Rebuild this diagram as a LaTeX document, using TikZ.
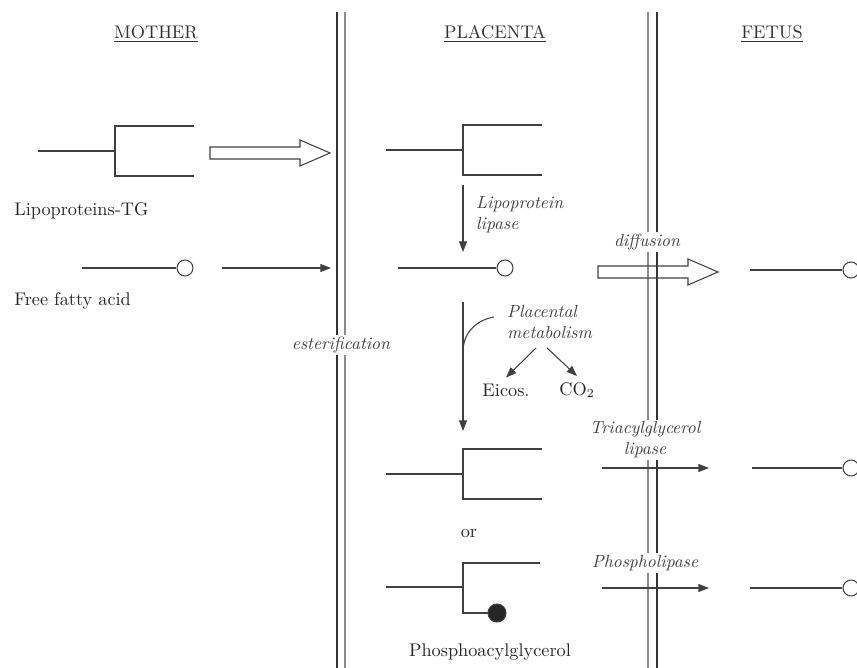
\documentclass[tikz,border=0pt]{standalone}
\usetikzlibrary{arrows.meta}

\def\triglyc{(-77,0) -- (0,0) (79,-25) -- (0,-25) -- (0,25) -- (79,25)}
\def\hollowarrow{(0,-6) -- (90,-6) -- (90,-13) -- (120,0) -- (90,13) -- (90,6) -- (0,6) -- cycle}

\tikzset{
    mol/.style={draw=black!75, line width=0.6pt},
    acid/.style={circle, draw=black!75, line width=0.6pt, minimum size=0.32cm, inner sep=0pt},
    flow/.style={draw=black!75, line width=0.6pt, -{Triangle[length=6pt,width=4.5pt]}},
    enzyme/.style={font=\itshape, text=black!75, fill=white, inner sep=1pt, align=center},
    compartment/.style={text=black!80},
}

\begin{document}
\begin{tikzpicture}[x=0.02cm, y=-0.02cm, every node/.style={text=black!85, font=\fontsize{10.4}{12.5}\selectfont}]
    \useasboundingbox (0,0) rectangle (857,668);
    % membranes
    \draw[black!80, line width=1.1pt] (337,12) -- (337,668);
    \draw[black!45, line width=0.8pt] (345,12) -- (345,668);
    \draw[black!45, line width=0.8pt] (648,12) -- (648,668);
    \draw[black!80, line width=1.1pt] (657,12) -- (657,668);
    \node (mother) at (156,34) [compartment] {\underline{MOTHER}};
    \node (placenta) at (495,34) [compartment] {\underline{PLACENTA}};
    \node (fetus) at (772,34) [compartment] {\underline{FETUS}};
    % mother side
    \draw[mol, shift={(115,151)}] \triglyc;
    \draw[mol, shift={(210,153)}] \hollowarrow;
    \node (lptg) at (14,211) [anchor=west, inner sep=0pt] {Lipoproteins-TG};
    \node (mfa) at (185,268) [acid] {};
    \draw[mol] (82,268) -- (mfa);
    \node (ffa) at (14,301) [anchor=west, inner sep=0pt] {Free fatty acid};
    \coordinate (mfa-from) at (222,268);
    \coordinate (mfa-to) at (331,268);
    \draw[flow] (mfa-from) -- (mfa-to);
    \node (ester) at (341,345) [enzyme] {esterification};
    % placenta side
    \draw[mol, shift={(463,150)}] \triglyc;
    \coordinate (lpl-from) at (463,185);
    \coordinate (lpl-to) at (463,252);
    \draw[flow] (lpl-from) -- (lpl-to);
    \node (lpl) at (474,215) [enzyme, anchor=west, align=left] {Lipoprotein\\lipase};
    \node (pfa) at (505,268) [acid] {};
    \draw[mol] (398,268) -- (pfa);
    \node (diff) at (647,242) [enzyme] {diffusion};
    \draw[mol, shift={(598,272)}] \hollowarrow;
    \coordinate (met-from) at (463,302);
    \coordinate (met-to) at (463,431);
    \draw[flow] (met-from) -- (met-to);
    \draw[mol] (463,352) .. controls (463,332) and (477,320) .. (494,317);
    \node (met) at (505,322) [enzyme, anchor=west, align=left, fill=none] {Placental\\metabolism};
    \node (eicos) at (506,390) {Eicos.};
    \node (co2) at (577,390) {CO$_2$};
    \coordinate (met-a) at (536,348);
    \coordinate (met-b) at (547,348);
    \draw[flow] (met-a) -- (eicos.north);
    \draw[flow] (met-b) -- (co2.north);
    \draw[mol, shift={(463,474)}] \triglyc;
    \node (or) at (469,534) {or};
    \draw[mol] (386,587) -- (463,587) (540,563) -- (463,563) -- (463,613) -- (490,613);
    \node (pcirc) at (497,613) [acid, fill=black!85, minimum size=0.36cm] {};
    \node (pag) at (490,652) {Phosphoacylglycerol};
    % towards the fetus
    \node (tgl) at (645,440) [enzyme] {Triacylglycerol\\lipase};
    \node (phl) at (645,563) [enzyme] {Phospholipase};
    \coordinate (tgl-from) at (602,468);
    \coordinate (tgl-to) at (709,468);
    \draw[flow] (tgl-from) -- (tgl-to);
    \coordinate (phl-from) at (602,588);
    \coordinate (phl-to) at (709,588);
    \draw[flow] (phl-from) -- (phl-to);
    % fetus side
    \node (ffa1) at (851,270) [acid] {};
    \draw[mol] (750,270) -- (ffa1);
    \node (ffa2) at (851,468) [acid] {};
    \draw[mol] (752,468) -- (ffa2);
    \node (ffa3) at (851,588) [acid] {};
    \draw[mol] (750,588) -- (ffa3);
\end{tikzpicture}
\end{document}
